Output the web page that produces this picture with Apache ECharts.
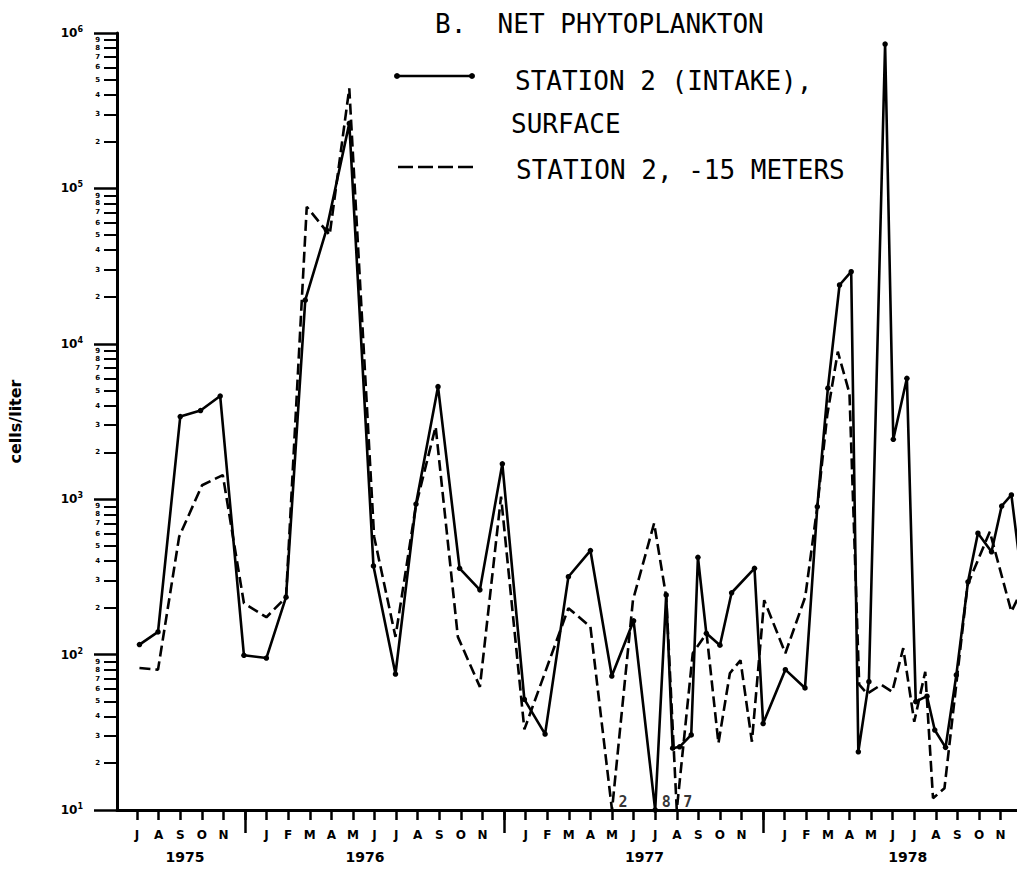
<!DOCTYPE html>
<html>
<head>
<meta charset="utf-8">
<script src="https://cdn.jsdelivr.net/npm/echarts@6/dist/echarts.min.js"></script>
<style>
html,body{margin:0;padding:0;background:#fff}
#chart{width:1017px;height:871px}
</style>
</head>
<body>
<div id="chart"></div>
<script>
// ---- tick labels ----
// month ticks: index 0 = July 1975; '' = December (year separator, unlabeled)
const monthLabels = ['J','A','S','O','N','','J','F','M','A','M','J','J','A','S','O','N','',
  'J','F','M','A','M','J','J','A','S','O','N','','J','F','M','A','M','J','J','A','S','O','N'];
const yearLabels = ['1975','1976','1977','1978'];
const yearLabelMonths = [2.22, 10.56, 23.5, 35.7];

// ---- series: Station 2 (intake), surface  (x = months since Jul 1975) ----
const surfaceMonths = [0.11,0.97,2.0,2.94,3.85,4.95,5.99,6.9,7.79,8.77,9.83,10.95,11.97,12.92,13.94,
  14.94,15.88,16.92,17.94,18.9,19.98,21.0,21.99,23.0,24.0,24.51,24.81,25.13,25.67,25.98,26.37,27.0,
  27.54,28.6,29.0,30.03,30.94,31.51,32.0,32.54,33.08,33.41,33.9,34.65,35.03,35.66,36.07,36.59,36.95,
  37.45,37.95,38.49,38.95,39.58,40.05,40.5,41.0];
const surfaceCells = [116,140,3400,3720,4610,99,95,234,19100,54000,262000,372,75,931,5300,359,261,
  1690,51.5,30.8,317,467,72.8,165,8,242,25,25.5,30.4,423,137,115,250,359,36,80,61,895,5180,23900,
  29100,23.7,67,849000,2430,6000,49.8,54,32.7,25.3,74,294,604,459,904,1065,293];

// ---- series: Station 2, -15 meters ----
const deepMonths = [0.11,0.97,1.95,3.01,3.97,4.95,5.99,6.9,7.86,8.92,9.83,10.98,11.97,12.91,13.83,
  14.86,15.88,16.86,17.94,19.98,21.0,22.0,22.97,23.95,24.51,25.0,25.74,26.38,26.93,27.46,27.95,28.48,
  29.05,30.03,30.95,31.51,31.97,32.46,33.0,33.45,33.82,34.47,34.98,35.49,36.0,36.51,36.87,37.4,38.47,
  39.5,40.5,41.0];
const deepCells = [82,80,574,1230,1430,214,174,234,76200,50100,441000,574,130,900,2930,130,62,1040,
  33,199,151,2,224,700,236,7,102,137,26.9,75.9,92,27.5,224,102,235,895,3480,8900,4800,64,56,64,57.7,
  110,37,77.6,11.9,13.8,280,618,189,264];

const Y_MIN = 10, Y_MAX = 1e6;
const X_MIN = -0.93, X_MAX = 40.76;

const AX = 'DejaVu Sans';
const TYPE = 'DejaVu Sans Mono';

// values below the axis floor are drawn down to the floor and annotated with their value
const toPoints = (xs, ys) => xs.map((x, i) => [x, Math.max(ys[i], Y_MIN)]);
const offScale = [];
[[surfaceMonths, surfaceCells], [deepMonths, deepCells]].forEach(([xs, ys]) => {
  ys.forEach((v, i) => { if (v < Y_MIN) offScale.push({ value: [xs[i], Y_MIN], raw: v }); });
});

const monthIdx = monthLabels.map((_, i) => i);
const decIdx = monthLabels.map((m, i) => m === '' ? i : null).filter(v => v !== null);
const minorExp = [];
for (let k = 1; k < 6; k++) for (let d = 2; d <= 9; d++) minorExp.push(k + Math.log10(d));

const chart = echarts.init(document.getElementById('chart'), null, { renderer: 'svg' });
chart.setOption({
  animation: false,
  backgroundColor: '#fff',
  grid: { left: 117, right: 0, top: 33, bottom: 61, containLabel: false, outerBoundsMode: 'none' },
  xAxis: [
    {
      type: 'value', min: X_MIN, max: X_MAX, position: 'bottom',
      splitLine: { show: false },
      axisLine: { show: true, onZero: false, lineStyle: { color: '#000', width: 3 } },
      axisTick: { show: true, customValues: monthIdx, length: 10, lineStyle: { color: '#000', width: 2.5 } },
      axisLabel: {
        customValues: monthIdx, margin: 19, color: '#000',
        fontFamily: AX, fontWeight: 'bold', fontSize: 12,
        formatter: v => monthLabels[Math.round(v)] || ''
      }
    },
    {
      type: 'value', min: X_MIN, max: X_MAX, position: 'bottom',
      splitLine: { show: false }, axisLine: { show: false, onZero: false },
      axisTick: { show: true, customValues: decIdx, length: 23, lineStyle: { color: '#000', width: 2.5 } },
      axisLabel: { show: false }
    },
    {
      type: 'value', min: X_MIN, max: X_MAX, position: 'bottom',
      splitLine: { show: false }, axisLine: { show: false, onZero: false }, axisTick: { show: false },
      axisLabel: {
        customValues: yearLabelMonths, margin: 40, color: '#000',
        fontFamily: AX, fontWeight: 'bold', fontSize: 14,
        formatter: v => yearLabels[yearLabelMonths.findIndex(p => Math.abs(p - v) < 1e-6)] || ''
      }
    }
  ],
  yAxis: [
    {
      type: 'log', logBase: 10, min: Y_MIN, max: Y_MAX, position: 'left',
      name: 'cells/liter', nameLocation: 'middle', nameGap: 94, nameRotate: 90,
      nameTextStyle: { color: '#000', fontFamily: AX, fontWeight: 'bold', fontSize: 16 },
      splitLine: { show: false },
      axisLine: { show: true, onZero: false, lineStyle: { color: '#000', width: 3 } },
      axisTick: { show: true, length: 23, lineStyle: { color: '#000', width: 2.5 } },
      axisLabel: {
        margin: 34, color: '#000',
        formatter: v => '{b|10}{s|' + Math.round(Math.log10(v)) + '}',
        rich: {
          b: { fontFamily: AX, fontWeight: 'bold', fontSize: 12, lineHeight: 15, color: '#000' },
          s: { fontFamily: AX, fontWeight: 'bold', fontSize: 8, verticalAlign: 'top', color: '#000' }
        }
      }
    },
    {
      type: 'value', min: 1, max: 6, position: 'left',
      splitLine: { show: false }, axisLine: { show: false, onZero: false },
      axisTick: { show: true, customValues: minorExp, length: 13, lineStyle: { color: '#000', width: 2 } },
      axisLabel: {
        customValues: minorExp, margin: 17, color: '#000',
        fontFamily: AX, fontWeight: 'bold', fontSize: 7,
        formatter: v => String(Math.round(Math.pow(10, v - Math.floor(v + 1e-9))))
      }
    }
  ],
  series: [
    {
      name: 'STATION 2 (INTAKE), SURFACE', type: 'line', xAxisIndex: 0, yAxisIndex: 0,
      data: toPoints(surfaceMonths, surfaceCells), clip: true,
      symbol: 'circle', symbolSize: 5.5, showAllSymbol: true,
      itemStyle: { color: '#000' },
      lineStyle: { color: '#000', width: 2.6, type: 'solid' }
    },
    {
      name: 'STATION 2, -15 METERS', type: 'line', xAxisIndex: 0, yAxisIndex: 0,
      data: toPoints(deepMonths, deepCells), clip: true,
      showSymbol: false, symbol: 'none',
      lineStyle: { color: '#000', width: 2.6, type: [11, 5] }
    },
    {
      name: 'below scale', type: 'scatter', xAxisIndex: 0, yAxisIndex: 0,
      data: offScale.map(o => ({ value: o.value, label: { formatter: String(o.raw) } })),
      symbolSize: 1, itemStyle: { color: 'rgba(0,0,0,0)' }, clip: false,
      label: { show: true, position: 'right', distance: 6, offset: [0, -8],
        fontFamily: TYPE, fontSize: 15, color: '#000', fontWeight: 'bold' }
    }
  ],
  graphic: [
    { type: 'text', x: 435, y: 24, style: { text: 'B.  NET PHYTOPLANKTON', font: '26px "DejaVu Sans Mono"', fill: '#000', verticalAlign: 'middle' } },
    { type: 'line', shape: { x1: 397, y1: 76, x2: 472, y2: 76 }, style: { stroke: '#000', lineWidth: 2.5 } },
    { type: 'circle', shape: { cx: 397, cy: 76, r: 3 }, style: { fill: '#000' } },
    { type: 'circle', shape: { cx: 472, cy: 76, r: 3 }, style: { fill: '#000' } },
    { type: 'text', x: 515, y: 81, style: { text: 'STATION 2 (INTAKE),', font: '26px "DejaVu Sans Mono"', fill: '#000', verticalAlign: 'middle' } },
    { type: 'text', x: 511, y: 124, style: { text: 'SURFACE', font: '26px "DejaVu Sans Mono"', fill: '#000', verticalAlign: 'middle' } },
    { type: 'line', shape: { x1: 398, y1: 167, x2: 473, y2: 167 }, style: { stroke: '#000', lineWidth: 2.5, lineDash: [15, 5] } },
    { type: 'text', x: 516, y: 170, style: { text: 'STATION 2, -15 METERS', font: '26px "DejaVu Sans Mono"', fill: '#000', verticalAlign: 'middle' } }
  ]
});
</script>
</body>
</html>
